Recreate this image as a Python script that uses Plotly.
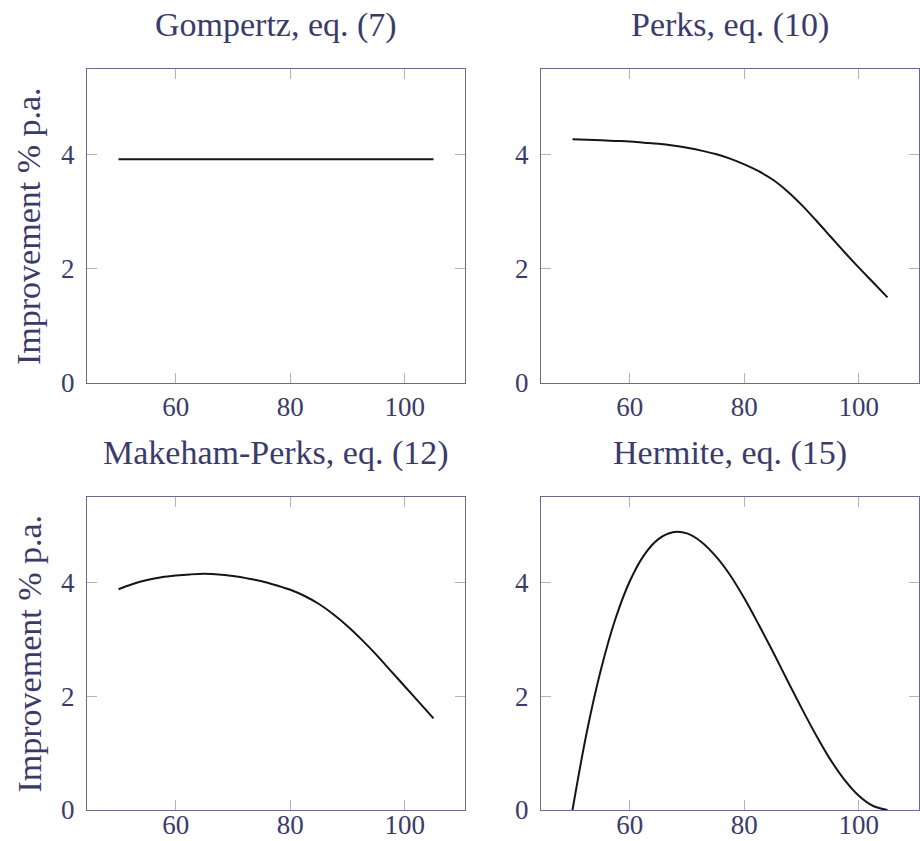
import plotly.graph_objects as go

# ---- data ----
ages = [50, 52.5, 55, 57.5, 60, 62.5, 65, 67.5, 70, 72.5, 75, 77.5, 80,
        82.5, 85, 87.5, 90, 92.5, 95, 97.5, 100, 102.5, 105]

gompertz = [3.92] * len(ages)

perks = [4.27, 4.26, 4.25, 4.24, 4.23, 4.21, 4.19, 4.16, 4.12, 4.07, 4.01, 3.93, 3.83,
         3.71, 3.56, 3.36, 3.12, 2.85, 2.57, 2.29, 2.02, 1.76, 1.50]

makeham_perks = [3.88, 3.97, 4.04, 4.09, 4.12, 4.14, 4.15, 4.14, 4.11, 4.07, 4.02, 3.95, 3.87,
                 3.76, 3.62, 3.44, 3.23, 2.99, 2.73, 2.45, 2.17, 1.89, 1.61]

hermite = [0.0, 1.37, 2.48, 3.36, 4.02, 4.48, 4.76, 4.88, 4.86, 4.71, 4.46, 4.13, 3.72,
           3.26, 2.78, 2.28, 1.79, 1.32, 0.89, 0.53, 0.25, 0.07, 0.0]

titles = ["Gompertz, eq. (7)", "Perks, eq. (10)",
          "Makeham-Perks, eq. (12)", "Hermite, eq. (15)"]
series = [gompertz, perks, makeham_perks, hermite]

x_ticks = [60, 80, 100]
y_ticks = [0, 2, 4]
y_label = "Improvement % p.a."

# ---- layout geometry (pixels) ----
W, H = 920, 841
FONT = "Liberation Serif"
TEXT = "#3b3b6b"
AXIS = "#6a6a8e"
TICK = "#b4b4b4"

cols = [(87, 465), (541, 919)]
rows = [(69, 383), (497, 810)]
x_standoff = [-1, -10]

fig = go.Figure()
layout = dict(
    template="none",
    width=W, height=H, margin=dict(l=0, r=0, t=0, b=0, pad=0),
    paper_bgcolor="white", plot_bgcolor="white", showlegend=False,
    font=dict(family=FONT, color=TEXT),
)
annotations = []
for i, (title, ys) in enumerate(zip(titles, series)):
    r, c = divmod(i, 2)
    x0, x1 = cols[c]
    y0, y1 = rows[r]
    sfx = "" if i == 0 else str(i + 1)
    fig.add_trace(go.Scatter(
        x=ages, y=ys, mode="lines",
        line=dict(color="#151515", width=2, shape="spline", smoothing=1.0),
        xaxis="x" + sfx, yaxis="y" + sfx, hoverinfo="skip"))
    axcommon = dict(
        showline=True, linecolor=AXIS, linewidth=1.3, mirror="allticks",
        ticks="inside", ticklen=10, tickwidth=1.2, tickcolor=TICK,
        showgrid=False, zeroline=False, automargin=False,
        tickfont=dict(family=FONT, size=27, color=TEXT),
    )
    layout["xaxis" + sfx] = dict(
        axcommon, domain=[x0 / W, x1 / W], range=[44.5, 110.5],
        tickvals=x_ticks, anchor="y" + sfx, ticklabelstandoff=x_standoff[r])
    layout["yaxis" + sfx] = dict(
        axcommon, domain=[1 - y1 / H, 1 - y0 / H], range=[0, 5.5],
        tickvals=y_ticks, anchor="x" + sfx, ticklabelstandoff=6)
    annotations.append(dict(
        text=title, x=(x0 + x1) / 2 / W, y=1 - (y0 - 44) / H,
        xref="paper", yref="paper", xanchor="center", yanchor="middle",
        showarrow=False, font=dict(family=FONT, size=34, color=TEXT)))
    if c == 0:
        annotations.append(dict(
            text=y_label, x=29 / W, y=1 - (y0 + y1) / 2 / H,
            xref="paper", yref="paper", xanchor="center", yanchor="middle",
            textangle=-90, showarrow=False,
            font=dict(family=FONT, size=34, color=TEXT)))

layout["annotations"] = annotations
fig.update_layout(**layout)
fig.write_html(
    "out.html",
    config={"displayModeBar": False},
    post_script="document.body.style.margin='0';document.body.style.overflow='hidden';",
)
